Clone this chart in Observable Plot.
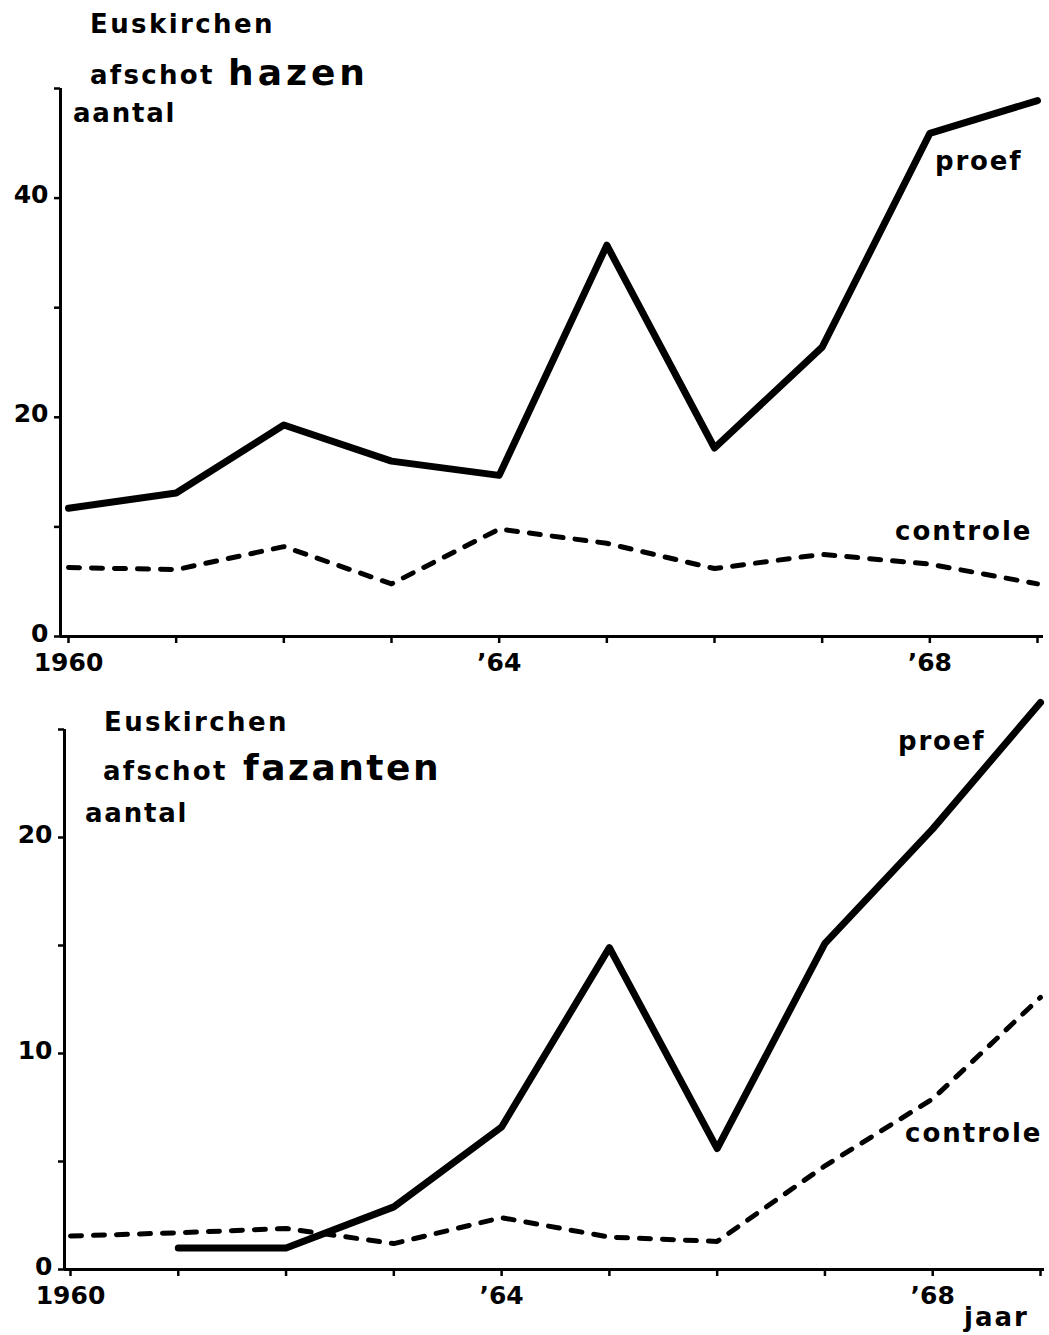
<!DOCTYPE html>
<html><head><meta charset="utf-8">
<script src="https://cdn.jsdelivr.net/npm/d3@7"></script>
<script src="https://cdn.jsdelivr.net/npm/@observablehq/plot@0.6"></script>
<style>
body{margin:0;background:#fff;}
#wrap{position:relative;width:1049px;height:1335px;overflow:hidden;background:#fff;}
#wrap svg{display:block;}
#top{position:absolute;left:0;top:0;}
#bot{position:absolute;left:0;top:690px;}
#ann{position:absolute;left:0;top:0;}
</style></head><body>
<div id="wrap"><div id="top"></div><div id="bot"></div><svg id="ann" width="1049" height="1335"></svg></div>
<script>
// ---- data ----
const years = [1960, 1961, 1962, 1963, 1964, 1965, 1966, 1967, 1968, 1969];
const hazenProef = [11.7, 13.1, 19.3, 16.0, 14.7, 35.7, 17.2, 26.4, 45.9, 48.9];
const hazenControle = [6.3, 6.1, 8.2, 4.8, 9.8, 8.5, 6.2, 7.5, 6.6, 4.8];
const fazantenProef = [null, 1.0, 1.0, 2.9, 6.6, 14.9, 5.6, 15.1, 20.4, 26.25];
const fazantenControle = [1.55, 1.7, 1.9, 1.2, 2.4, 1.5, 1.3, 4.8, 7.9, 12.6];
const xLabelYears = [1960, 1964, 1968];
const xLabelTexts = ["1960", "\u201964", "\u201968"];
const hazenYTicks = [0, 10, 20, 30, 40, 50];
const hazenYLabels = [0, 20, 40];
const fazantenYTicks = [0, 5, 10, 15, 20, 25];
const fazantenYLabels = [0, 10, 20];
const titlePlace = "Euskirchen";
const titleWord = "afschot";
const hazenName = "hazen";
const fazantenName = "fazanten";
const yName = "aantal";
const xName = "jaar";
const proefName = "proef";
const controleName = "controle";

const FONT = "'DejaVu Sans', 'Liberation Sans', sans-serif";

function panel(o) {
  const proefRows = years.map((yr, i) => ({year: yr, value: o.proef[i]}));
  const ctrlRows = years.map((yr, i) => ({year: yr, value: o.controle[i]}));
  return Plot.plot({
    width: 1049, height: o.height,
    marginTop: o.marginTop, marginBottom: o.marginBottom,
    marginLeft: o.marginLeft, marginRight: o.marginRight,
    style: {fontFamily: FONT, fontWeight: "bold", fontSize: "25px", color: "#000", background: "transparent", overflow: "visible"},
    x: {domain: [1960, 1969], insetLeft: o.insetLeft, insetRight: o.insetRight},
    y: {domain: [0, o.yMax]},
    marks: [
      Plot.ruleX([1960], {y1: 0, y2: o.yMax, dx: -o.insetLeft, stroke: "#000", strokeWidth: 3}),
      Plot.ruleY([0], {stroke: "#000", strokeWidth: 3}),
      Plot.axisY({ticks: o.yTicks, tickSize: 6, strokeWidth: 2.5, label: null, text: null}),
      Plot.axisY({ticks: o.yLabels, tickSize: 0, tickPadding: 12, fontSize: 25, label: null, dy: -3}),
      Plot.axisX({ticks: years, tickSize: 7, tickPadding: 10, strokeWidth: 2.5, fontSize: 25, label: null,
        tickFormat: d => { const k = xLabelYears.indexOf(d); return k >= 0 ? xLabelTexts[k] : ""; }}),
      Plot.line(ctrlRows, {x: "year", y: "value", stroke: "#000", strokeWidth: 5, strokeDasharray: "11,12", strokeLinecap: "round", strokeLinejoin: "round"}),
      Plot.line(proefRows, {x: "year", y: "value", stroke: "#000", strokeWidth: 7, strokeLinecap: "round", strokeLinejoin: "round"})
    ]
  });
}

document.getElementById("top").append(panel({
  proef: hazenProef, controle: hazenControle, yMax: 50, yTicks: hazenYTicks, yLabels: hazenYLabels,
  height: 690, marginTop: 88, marginBottom: 54, marginLeft: 60, insetLeft: 8, marginRight: 6, insetRight: 6
}));
document.getElementById("bot").append(panel({
  proef: fazantenProef, controle: fazantenControle, yMax: 25, yTicks: fazantenYTicks, yLabels: fazantenYLabels,
  height: 645, marginTop: 39, marginBottom: 66, marginLeft: 64, insetLeft: 6, marginRight: 5, insetRight: 4
}));

// ---- annotations (layout only) ----
const ann = [
  {t: titlePlace, x: 90, y: 33, s: 26, ls: 2.4},
  {t: titleWord, x: 90, y: 84, s: 26, ls: 2.3},
  {t: hazenName, x: 228, y: 85, s: 36, ls: 4},
  {t: yName, x: 73, y: 122, s: 26, ls: 1.8},
  {t: proefName, x: 935, y: 170, s: 26, ls: 1.8},
  {t: controleName, x: 895, y: 540, s: 26, ls: 2},
  {t: titlePlace, x: 104, y: 731, s: 26, ls: 2.4},
  {t: titleWord, x: 103, y: 780, s: 26, ls: 2.3},
  {t: fazantenName, x: 243, y: 780, s: 36, ls: 2.5},
  {t: yName, x: 85, y: 822, s: 26, ls: 1.8},
  {t: proefName, x: 898, y: 750, s: 26, ls: 1.8},
  {t: controleName, x: 905, y: 1142, s: 26, ls: 2},
  {t: xName, x: 964, y: 1326, s: 26, ls: 2}
];
d3.select("#ann").selectAll("text").data(ann).join("text")
  .attr("x", d => d.x).attr("y", d => d.y)
  .attr("font-family", FONT).attr("font-weight", "bold")
  .attr("font-size", d => d.s).attr("letter-spacing", d => d.ls)
  .attr("fill", "#000").text(d => d.t);
</script>
</body></html>
